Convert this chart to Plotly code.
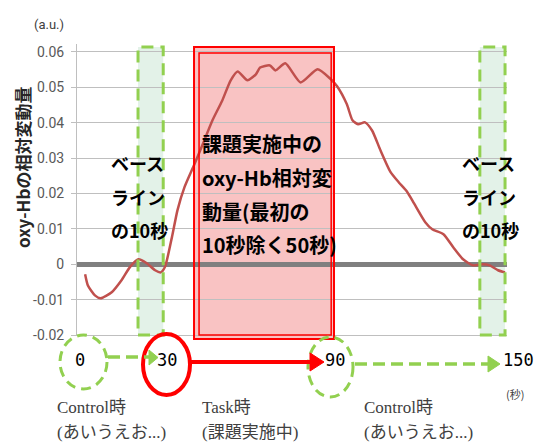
import plotly.graph_objects as go

# ---- data ----
time_s = [0, 1, 3.5, 5.5, 9.5, 13, 16, 19, 22, 25, 27, 28.5, 31, 33, 35.5, 39, 42, 45.5, 49, 52,
          54.5, 58, 61, 62.5, 66, 68, 71.5, 77, 83, 87.5, 90, 93.5, 95.5, 97.5, 100, 102.5, 105.5,
          109, 112, 115, 117.5, 121.5, 124, 128, 131.5, 135, 138.5, 142, 144.5, 147.5, 150]
oxy_hb = [-0.0028, -0.006, -0.0088, -0.0096, -0.0079, -0.0045, -0.0008, 0.0014, 0.0003, -0.0017,
          -0.0023, -0.0008, 0.0076, 0.0153, 0.0218, 0.0282, 0.0339, 0.0407, 0.0463, 0.052,
          0.0545, 0.052, 0.0537, 0.0556, 0.0562, 0.0548, 0.0568, 0.0514, 0.0551, 0.0525,
          0.0503, 0.0452, 0.0407, 0.0396, 0.0401, 0.0378, 0.0322, 0.0262, 0.0232, 0.0205,
          0.0172, 0.0119, 0.0099, 0.0085, 0.0048, 0.0014, -0.0003, 0.0, -0.0003, -0.0017, -0.0023]

y_tickvals = [-0.02, -0.01, 0, 0.01, 0.02, 0.03, 0.04, 0.05, 0.06]
y_ticktext = ["-0.02", "-0.01", "0", "0.01", "0.02", "0.03", "0.04", "0.05", "0.06"]

baseline1 = [18.9, 27.9]   # first baseline window (s)
baseline2 = [141, 150]     # last baseline window (s)
task_outer = [38.9, 88.9]  # task window, outer frame
task_inner = [40.7, 87.9]  # task window, inner frame

phase_numbers = ["0", "30", "90", "150"]

# ---- layout helpers (pixel -> paper) ----
W, H = 540, 444
PL, PR, PT, PB = 77, 507, 44, 335
def px(x):
    return (x - PL) / (PR - PL)
def py(y):
    return (PB - y) / (PB - PT)

GREEN = "#92d050"
RED = "#ff0000"
CJK = "Noto Sans CJK JP"

fig = go.Figure()
fig.add_trace(go.Scatter(x=time_s, y=oxy_hb, mode="lines",
                         line=dict(color="#c0504d", width=2.5, shape="spline", smoothing=0.6),
                         hoverinfo="skip", showlegend=False))

shapes = []
# baseline boxes
for b in (baseline1, baseline2):
    shapes.append(dict(type="rect", xref="x", yref="paper", x0=b[0], x1=b[1], y0=0, y1=py(47),
                       fillcolor="#e3f2e8", line=dict(width=0), layer="below"))
    shapes.append(dict(type="rect", xref="x", yref="paper", x0=b[0], x1=b[1], y0=0, y1=py(47),
                       fillcolor="rgba(0,0,0,0)", line=dict(color=GREEN, width=3, dash="12px,7px"),
                       layer="above"))
# task box
shapes.append(dict(type="rect", xref="x", yref="paper", x0=task_outer[0], x1=task_outer[1],
                   y0=py(339), y1=py(47), fillcolor="#f9c3c3", line=dict(width=0), layer="below"))
shapes.append(dict(type="rect", xref="x", yref="paper", x0=task_outer[0], x1=task_outer[1],
                   y0=py(339), y1=py(47), fillcolor="rgba(0,0,0,0)", line=dict(color=RED, width=2),
                   layer="above"))
shapes.append(dict(type="rect", xref="x", yref="paper", x0=task_inner[0], x1=task_inner[1],
                   y0=py(335), y1=py(53), fillcolor="rgba(0,0,0,0)", line=dict(color=RED, width=1.5),
                   layer="above"))

# phase circles
shapes.append(dict(type="circle", xref="paper", yref="paper", x0=px(60), x1=px(107), y0=py(389), y1=py(335),
                   line=dict(color=GREEN, width=3, dash="10px,6px")))
shapes.append(dict(type="circle", xref="paper", yref="paper", x0=px(143), x1=px(190), y0=py(395), y1=py(334),
                   line=dict(color=RED, width=4)))
shapes.append(dict(type="circle", xref="paper", yref="paper", x0=px(308), x1=px(353), y0=py(397), y1=py(337),
                   line=dict(color=GREEN, width=3, dash="10px,6px")))
# arrows
shapes.append(dict(type="line", xref="paper", yref="paper", x0=px(108), x1=px(149), y0=py(357), y1=py(357),
                   line=dict(color=GREEN, width=3.5, dash="12px,6px")))
shapes.append(dict(type="path", xref="paper", yref="paper",
                   path=f"M {px(149)} {py(350)} L {px(158)} {py(357.5)} L {px(149)} {py(365)} Z",
                   fillcolor=GREEN, line=dict(color=GREEN, width=1)))
shapes.append(dict(type="line", xref="paper", yref="paper", x0=px(190), x1=px(312), y0=py(362), y1=py(362),
                   line=dict(color=RED, width=4)))
shapes.append(dict(type="path", xref="paper", yref="paper",
                   path=f"M {px(310)} {py(353)} L {px(324)} {py(362)} L {px(310)} {py(371)} Z",
                   fillcolor=RED, line=dict(color=RED, width=1)))
shapes.append(dict(type="line", xref="paper", yref="paper", x0=px(355), x1=px(488), y0=py(364), y1=py(364),
                   line=dict(color=GREEN, width=3.5, dash="12px,6px")))
shapes.append(dict(type="path", xref="paper", yref="paper",
                   path=f"M {px(488)} {py(356)} L {px(500)} {py(364)} L {px(488)} {py(372)} Z",
                   fillcolor=GREEN, line=dict(color=GREEN, width=1)))

ann = []
def txt(x, y, s, size, color="#000000", family=CJK, xanchor="left", bold=False, angle=0):
    ann.append(dict(x=px(x), y=py(y), xref="paper", yref="paper", text=(f"<b>{s}</b>" if bold else s),
                    showarrow=False, xanchor=xanchor, yanchor="middle", textangle=angle,
                    font=dict(size=size, color=color, family=family)))

# baseline labels
for lx in (109, 460):
    txt(lx, 163, "ベース", 18, bold=True)
    txt(lx, 197, "ライン", 18, bold=True)
    txt(lx, 230, "の10秒", 18, bold=True)
# task label
for yy, s in zip((143, 177, 211, 244), ("課題実施中の", "oxy-Hb相対変", "動量(最初の", "10秒除く50秒)")):
    txt(200, yy, s, 20, bold=True)

# axis extras
txt(49, 24, "(a.u.)", 13, color="#404040", family="Roboto", xanchor="center")
txt(22, 168, "oxy-Hbの相対変動量", 17, color="#262626", bold=True, xanchor="center", angle=-90)

# phase numbers
for (xx, s) in zip((80, 167, 335, 518), phase_numbers):
    txt(xx, 360, s, 17, family="DejaVu Sans Mono", xanchor="center")
txt(515, 394, "(秒)", 11, color="#404040", xanchor="center")

SERIF = "Liberation Serif, " + CJK
for lx, l1, l2 in ((55, "Control時", "(あいうえお...)"), (200, "Task時", "(課題実施中)"),
                   (362, "Control時", "(あいうえお...)")):
    txt(lx, 407, l1, 17, color="#404040", family=SERIF)
    txt(lx, 432, l2, 17, color="#404040", family=SERIF)

fig.update_layout(
    width=W, height=H, margin=dict(l=PL, r=W - PR, t=PT, b=H - PB, pad=0),
    paper_bgcolor="white", plot_bgcolor="white",
    shapes=shapes, annotations=ann, showlegend=False,
    xaxis=dict(range=[-2.9, 150.7], showticklabels=False, showgrid=False, zeroline=False,
               showline=True, linecolor="#bfbfbf", linewidth=1, ticks=""),
    yaxis=dict(range=[-0.02, 0.06226], tickvals=y_tickvals, ticktext=y_ticktext,
               showgrid=True, gridcolor="#bfbfbf", gridwidth=1,
               zeroline=True, zerolinecolor="#808080", zerolinewidth=5,
               showline=True, linecolor="#bfbfbf", linewidth=1,
               ticks="outside", ticklen=5, tickcolor="#bfbfbf", ticklabelstandoff=4,
               tickfont=dict(family="Roboto", size=14, color="#595959")),
)

fig.write_html("out.html", config={"displayModeBar": False},
               post_script="document.body.style.margin='0';document.body.style.overflow='hidden';")
